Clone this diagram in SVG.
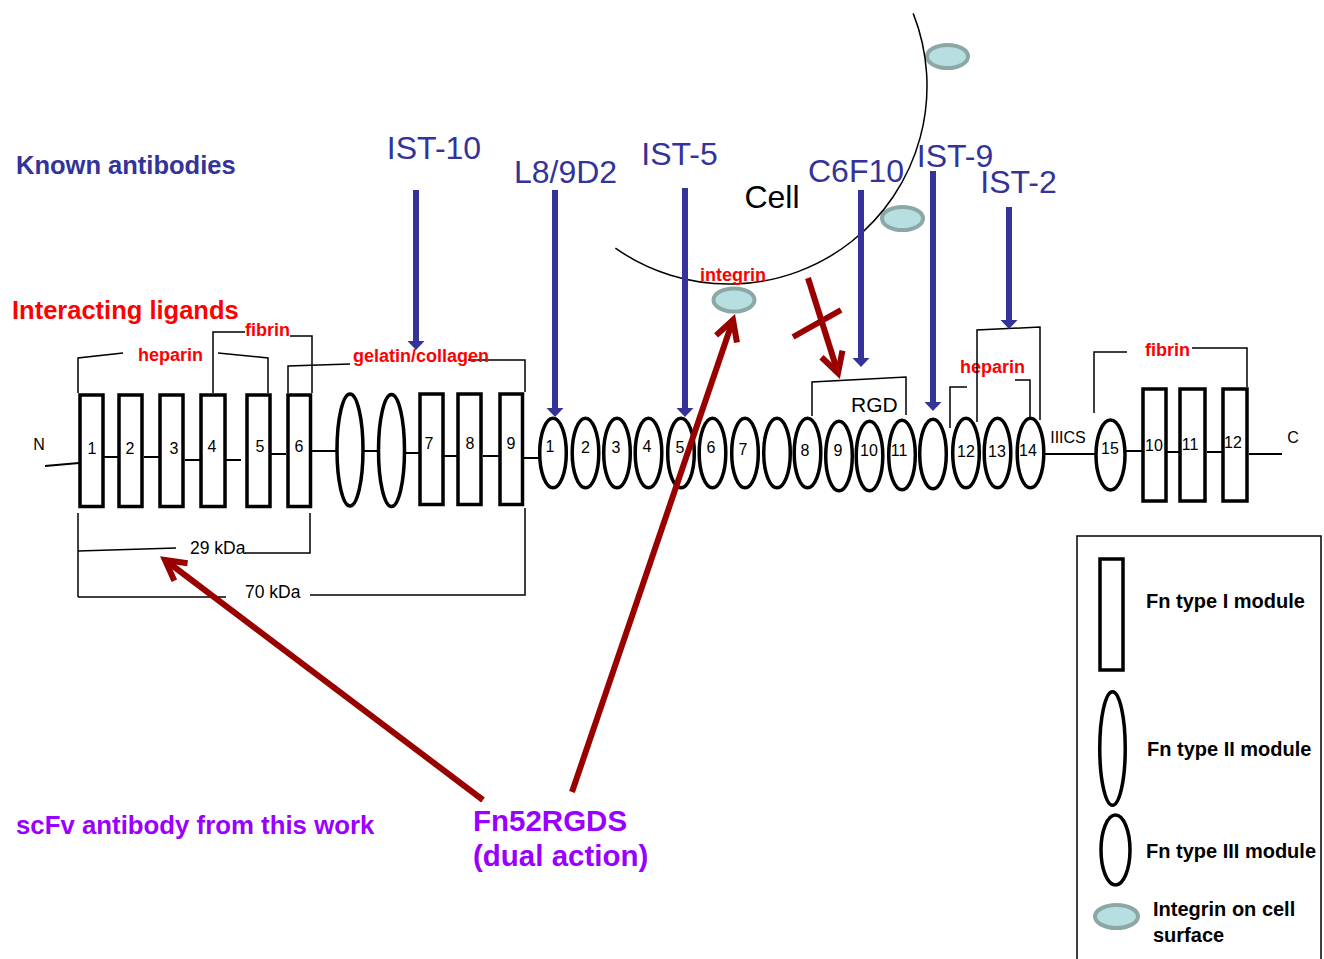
<svg xmlns="http://www.w3.org/2000/svg" width="1324" height="959" viewBox="0 0 1324 959">
<style>
text{font-family:"Liberation Sans",Arial,sans-serif}
.m{fill:#fff;stroke:#000;stroke-width:3.5}
.ln{stroke:#000;stroke-width:1.5;fill:none}
.cn{stroke:#000;stroke-width:2}
.num{font-size:16px;text-anchor:middle;fill:#000}
.red{font-weight:bold;font-size:18px;fill:#ff0000}
.ab{font-size:32px;fill:#333399;text-anchor:middle}
.bl{stroke:#333399;stroke-width:6}
.rd{stroke:#990000;stroke-width:6;fill:none}
.ig{fill:#b7dee0;stroke:#8ca8a6;stroke-width:4}
.lg{font-weight:bold;font-size:20px;fill:#000}
.kd{font-size:17.5px;fill:#000}
</style>
<defs>
<marker id="bh" markerUnits="userSpaceOnUse" markerWidth="12" markerHeight="20" viewBox="0 -10 12 20" refX="0" refY="0" orient="auto" overflow="visible"><path d="M0,-8.5 L9,0 L0,8.5 z" fill="#333399"/></marker>
<marker id="rh" markerUnits="userSpaceOnUse" markerWidth="30" markerHeight="30" viewBox="-25 -15 30 30" refX="0" refY="0" orient="auto" overflow="visible"><path d="M-20,-11 L0,0 L-20,11" fill="none" stroke="#990000" stroke-width="6"/></marker>
</defs>
<rect width="1324" height="959" fill="#fff"/>

<!-- headings -->
<g id="headings">
<text x="16" y="174" font-weight="bold" font-size="25.5" fill="#333399">Known antibodies</text>
<text x="12" y="319" font-weight="bold" font-size="25.5" fill="#ff0000">Interacting ligands</text>
<text x="16" y="834" font-weight="bold" font-size="25.8" fill="#9900ff">scFv antibody from this work</text>
</g>

<!-- cell -->
<g id="cell">
<ellipse class="ig" cx="947.5" cy="56.5" rx="20.5" ry="11.5"/>
<ellipse class="ig" cx="902.5" cy="218.5" rx="20.5" ry="11.5"/>
<ellipse class="ig" cx="734" cy="300" rx="20.5" ry="11.5"/>
<path d="M 615.4 248.2 A 198 198 0 0 0 913.2 13.4" fill="none" stroke="#000" stroke-width="1.5"/>
<text x="772" y="208" font-size="32" text-anchor="middle">Cell</text>
<text class="red" x="700" y="281">integrin</text>
</g>

<!-- module connectors -->
<g id="connectors">
<line class="cn" x1="45" y1="466" x2="79" y2="463"/>
<line class="cn" x1="102" y1="457" x2="118" y2="457"/>
<line class="cn" x1="144" y1="457" x2="159" y2="457"/>
<line class="cn" x1="185" y1="460" x2="200" y2="460"/>
<line class="cn" x1="226" y1="460" x2="241" y2="460"/>
<line class="cn" x1="271" y1="454" x2="286" y2="454"/>
<line class="cn" x1="312" y1="451" x2="336" y2="451"/>
<line class="cn" x1="364" y1="451" x2="378" y2="451"/>
<line class="cn" x1="405" y1="453" x2="419" y2="453"/>
<line class="cn" x1="441" y1="456" x2="457" y2="456"/>
<line class="cn" x1="483" y1="456" x2="499" y2="456"/>
<line class="cn" x1="524" y1="458" x2="539" y2="458"/>
<line class="cn" x1="1045" y1="454" x2="1095" y2="454"/>
<line class="cn" x1="1126" y1="451" x2="1142" y2="451"/>
<line class="cn" x1="1163" y1="452" x2="1179" y2="452"/>
<line class="cn" x1="1207" y1="452" x2="1222" y2="452"/>
<line class="cn" x1="1249" y1="454" x2="1282" y2="454"/>
</g>

<!-- type I modules (N-terminal) -->
<g id="fnI-1"><rect class="m" x="80" y="395" width="23" height="111.5"/><text class="num" x="92" y="454">1</text></g>
<g id="fnI-2"><rect class="m" x="119" y="395" width="23" height="111.5"/><text class="num" x="130" y="454">2</text></g>
<g id="fnI-3"><rect class="m" x="160" y="395" width="23" height="111.5"/><text class="num" x="174" y="454">3</text></g>
<g id="fnI-4"><rect class="m" x="201" y="395" width="24" height="111.5"/><text class="num" x="212" y="452">4</text></g>
<g id="fnI-5"><rect class="m" x="247" y="395" width="23" height="111.5"/><text class="num" x="260" y="452">5</text></g>
<g id="fnI-6"><rect class="m" x="288" y="395" width="22.5" height="111.5"/><text class="num" x="299" y="452">6</text></g>
<!-- type II -->
<g id="fnII-1"><ellipse class="m" cx="350" cy="450" rx="13" ry="56"/></g>
<g id="fnII-2"><ellipse class="m" cx="391.5" cy="450.5" rx="13" ry="56"/></g>
<!-- type I 7-9 -->
<g id="fnI-7"><rect class="m" x="420" y="394" width="23" height="110.5"/><text class="num" x="429" y="449">7</text></g>
<g id="fnI-8"><rect class="m" x="458" y="394" width="23" height="110.5"/><text class="num" x="470" y="449">8</text></g>
<g id="fnI-9"><rect class="m" x="500" y="394" width="22.5" height="110.5"/><text class="num" x="511" y="449">9</text></g>
<!-- type III -->
<g id="fnIII-1"><ellipse class="m" cx="553" cy="453" rx="13.3" ry="34.7"/><text class="num" x="550" y="452">1</text></g>
<g id="fnIII-2"><ellipse class="m" cx="585.5" cy="453" rx="13.3" ry="34.7"/><text class="num" x="585.5" y="453">2</text></g>
<g id="fnIII-3"><ellipse class="m" cx="617" cy="453" rx="13.3" ry="34.7"/><text class="num" x="616" y="453">3</text></g>
<g id="fnIII-4"><ellipse class="m" cx="648.5" cy="453" rx="13.3" ry="34.7"/><text class="num" x="647" y="452">4</text></g>
<g id="fnIII-5"><ellipse class="m" cx="681" cy="453" rx="13.3" ry="34.7"/><text class="num" x="680" y="453">5</text></g>
<g id="fnIII-6"><ellipse class="m" cx="712.5" cy="453" rx="13.3" ry="34.7"/><text class="num" x="711" y="453">6</text></g>
<g id="fnIII-7"><ellipse class="m" cx="745" cy="453" rx="13.3" ry="34.7"/><text class="num" x="743" y="455">7</text></g>
<g id="fnIII-7b"><ellipse class="m" cx="777" cy="453" rx="13.3" ry="34.7"/></g>
<g id="fnIII-8"><ellipse class="m" cx="807.5" cy="453" rx="13.3" ry="34.7"/><text class="num" x="805" y="456">8</text></g>
<g id="fnIII-9"><ellipse class="m" cx="839" cy="456" rx="13.3" ry="34.7"/><text class="num" x="838" y="456">9</text></g>
<g id="fnIII-10"><ellipse class="m" cx="869.5" cy="456" rx="13.3" ry="34.7"/><text class="num" x="869" y="456">10</text></g>
<g id="fnIII-11"><ellipse class="m" cx="902" cy="455" rx="13.3" ry="34.7"/><text class="num" x="899" y="456">11</text></g>
<g id="fnIII-11b"><ellipse class="m" cx="933" cy="454" rx="13.3" ry="34.7"/></g>
<g id="fnIII-12"><ellipse class="m" cx="966" cy="453" rx="13.3" ry="34.7"/><text class="num" x="966" y="457">12</text></g>
<g id="fnIII-13"><ellipse class="m" cx="997.5" cy="453" rx="13.3" ry="34.7"/><text class="num" x="997" y="457">13</text></g>
<g id="fnIII-14"><ellipse class="m" cx="1030.5" cy="453" rx="13.3" ry="34.7"/><text class="num" x="1028" y="456">14</text></g>
<g id="iiics"><text class="num" x="1068" y="443">IIICS</text></g>
<g id="fnIII-15"><ellipse class="m" cx="1110.5" cy="455" rx="14.5" ry="35"/><text class="num" x="1110" y="454">15</text></g>
<!-- type I C-terminal -->
<g id="fnI-10"><rect class="m" x="1143" y="389" width="23" height="112"/><text class="num" x="1154" y="451">10</text></g>
<g id="fnI-11"><rect class="m" x="1180" y="389" width="25" height="112"/><text class="num" x="1190" y="450">11</text></g>
<g id="fnI-12"><rect class="m" x="1223" y="389" width="24" height="112"/><text class="num" x="1233" y="448">12</text></g>
<g id="termini">
<text class="num" x="39" y="450">N</text>
<text class="num" x="1293" y="443">C</text>
</g>

<!-- ligand brackets -->
<g id="brackets">
<polyline class="ln" points="78,393 78,358 123,353"/>
<polyline class="ln" points="218,353 268,358 268,393"/>
<text class="red" x="138" y="361">heparin</text>
<polyline class="ln" points="213,393 213,332 245,332"/>
<polyline class="ln" points="290,336 312,336 312,393"/>
<text class="red" x="245" y="336">fibrin</text>
<polyline class="ln" points="288,393 288,366 350,364"/>
<polyline class="ln" points="468,360 525,360 525,392"/>
<text class="red" x="353" y="362" font-size="18.5">gelatin/collagen</text>
<polyline class="ln" points="812,416 812,382 906,377 906,415"/>
<text x="851" y="412" font-size="21">RGD</text>
<polyline class="ln" points="950,428 950,387 967,387"/>
<polyline class="ln" points="1015,380 1030,380 1030,417"/>
<text class="red" x="960" y="373">heparin</text>
<polyline class="ln" points="977,422 977,330 1040,327 1040,420"/>
<polyline class="ln" points="1094,413 1094,352 1127,352"/>
<polyline class="ln" points="1192,348 1247,348 1247,387"/>
<text class="red" x="1145" y="356">fibrin</text>
<!-- fragment brackets -->
<line class="ln" x1="78" y1="513" x2="78" y2="597"/>
<polyline class="ln" points="78,551 176,548"/>
<polyline class="ln" points="245,553 310,553 310,513"/>
<text class="kd" x="190" y="554">29 kDa</text>
<line class="ln" x1="78" y1="597" x2="226" y2="597"/>
<polyline class="ln" points="310,595 525,595 525,508"/>
<text class="kd" x="245" y="598">70 kDa</text>
</g>

<!-- antibodies -->
<g id="ab-IST-10"><text class="ab" x="434" y="159">IST-10</text><line class="bl" x1="416" y1="190" x2="416" y2="341" marker-end="url(#bh)"/></g>
<g id="ab-L8-9D2"><text class="ab" x="565.5" y="183">L8/9D2</text><line class="bl" x1="555" y1="190" x2="555" y2="408" marker-end="url(#bh)"/></g>
<g id="ab-IST-5"><text class="ab" x="679.5" y="165">IST-5</text><line class="bl" x1="685" y1="188" x2="685" y2="408" marker-end="url(#bh)"/></g>
<g id="ab-C6F10"><text class="ab" x="856" y="182">C6F10</text><line class="bl" x1="861" y1="190" x2="861" y2="358" marker-end="url(#bh)"/></g>
<g id="ab-IST-9"><text class="ab" x="955" y="167">IST-9</text><line class="bl" x1="933" y1="171" x2="933" y2="402" marker-end="url(#bh)"/></g>
<g id="ab-IST-2"><text class="ab" x="1018.5" y="193">IST-2</text><line class="bl" x1="1009" y1="207" x2="1009" y2="320" marker-end="url(#bh)"/></g>

<!-- Fn52RGDS -->
<g id="fn52rgds">
<text x="473" y="831" font-weight="bold" font-size="29.5" fill="#9900ff">Fn52RGDS</text>
<text x="473" y="866" font-weight="bold" font-size="29.5" fill="#9900ff">(dual action)</text>
</g>
<g id="red-arrows">
<line class="rd" x1="483" y1="800" x2="165" y2="560" marker-end="url(#rh)"/>
<line class="rd" x1="572" y1="792" x2="733" y2="320" marker-end="url(#rh)"/>
<line class="rd" x1="808" y1="278" x2="838" y2="373" marker-end="url(#rh)"/>
<line class="rd" x1="793" y1="337" x2="841" y2="310"/>
</g>

<!-- legend -->
<g id="legend">
<rect x="1077" y="536" width="244" height="440" fill="none" stroke="#000" stroke-width="1.5"/>
<rect class="m" x="1100" y="559" width="23" height="111"/>
<text class="lg" x="1146" y="608">Fn type I module</text>
<ellipse class="m" cx="1112.5" cy="748.5" rx="12.75" ry="56.75"/>
<text class="lg" x="1147" y="756">Fn type II module</text>
<ellipse class="m" cx="1115.5" cy="850" rx="14.5" ry="35"/>
<text class="lg" x="1146" y="858">Fn type III module</text>
<ellipse class="ig" cx="1116.5" cy="916.5" rx="21.5" ry="11.5"/>
<text x="1153" y="916" font-weight="bold" font-size="20">Integrin on cell</text>
<text x="1153" y="942" font-weight="bold" font-size="20">surface</text>
</g>
</svg>
